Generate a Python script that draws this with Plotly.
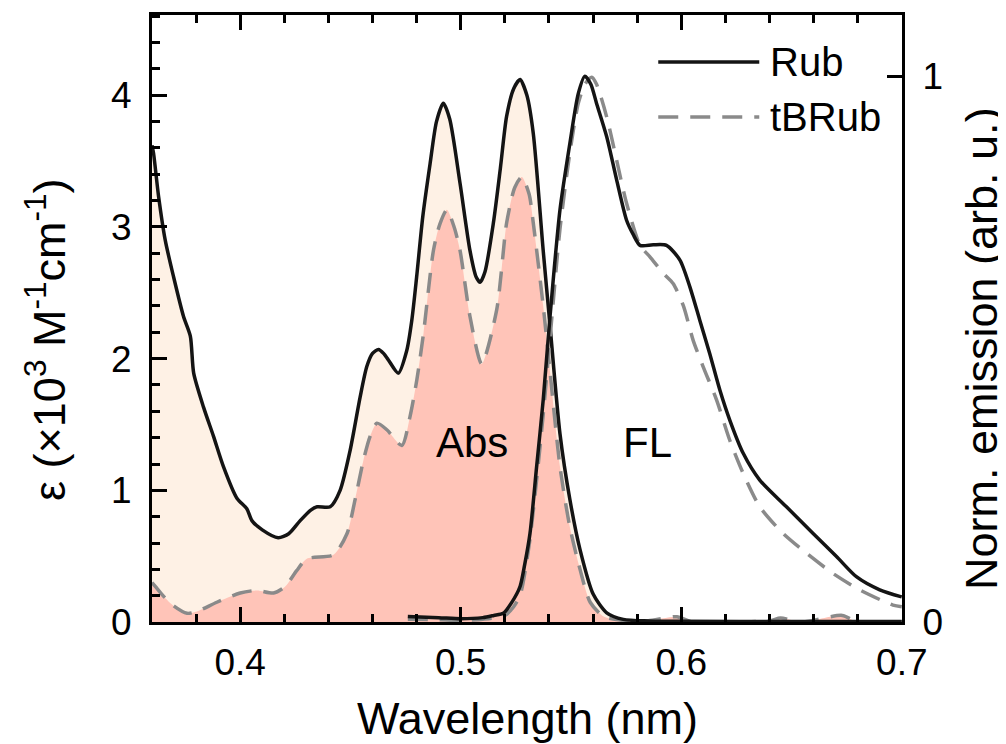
import plotly.graph_objects as go

# ---------------- data ----------------
# Absorption (left axis, epsilon x10^3 M^-1 cm^-1)
abs_rub_wl = [0.3600, 0.3607, 0.3630, 0.3660, 0.3698, 0.3743, 0.3774, 0.3789, 0.3834, 0.3879,
              0.3924, 0.3985, 0.4030, 0.4053, 0.4100, 0.4172, 0.4220, 0.4272, 0.4320, 0.4349,
              0.4408, 0.4453, 0.4498, 0.4544, 0.4574, 0.4600, 0.4627, 0.4650, 0.4672, 0.4717,
              0.4755, 0.4778, 0.4800, 0.4828, 0.4861, 0.4890, 0.4921, 0.4950, 0.4997, 0.5042,
              0.5070, 0.5088, 0.5110, 0.5148, 0.5180, 0.5208, 0.5240, 0.5269, 0.5300, 0.5329,
              0.5374, 0.5405, 0.5450, 0.5495, 0.5541, 0.5601, 0.5662, 0.5737, 0.5850, 0.6000,
              0.6500, 0.7000]
abs_rub = [3.62, 3.56, 3.23, 2.90, 2.62, 2.32, 2.17, 1.89, 1.63, 1.41,
           1.18, 0.94, 0.86, 0.77, 0.70, 0.64, 0.67, 0.77, 0.85, 0.875,
           0.875, 1.00, 1.30, 1.71, 1.94, 2.04, 2.07, 2.04, 1.99, 1.89,
           2.06, 2.29, 2.62, 3.08, 3.48, 3.80, 3.94, 3.82, 3.33, 2.82,
           2.62, 2.58, 2.66, 3.03, 3.45, 3.84, 4.05, 4.12, 4.00, 3.71,
           2.82, 2.25, 1.43, 0.93, 0.55, 0.21, 0.07, 0.02, 0.008, 0.005,
           0.004, 0.003]

abs_tb_wl = [0.3600, 0.3615, 0.3650, 0.3700, 0.3759, 0.3804, 0.3894, 0.4000, 0.4076, 0.4151,
             0.4204, 0.4256, 0.4302, 0.4423, 0.4484, 0.4521, 0.4559, 0.4589, 0.4620, 0.4665,
             0.4733, 0.4770, 0.4801, 0.4831, 0.4876, 0.4905, 0.4937, 0.4970, 0.4997, 0.5042,
             0.5095, 0.5163, 0.5208, 0.5245, 0.5277, 0.5310, 0.5329, 0.5374, 0.5405, 0.5450,
             0.5495, 0.5541, 0.5587, 0.5650, 0.5750, 0.5850, 0.5980, 0.6050, 0.6400, 0.6450,
             0.6550, 0.6730, 0.6800, 0.7000]
abs_tb = [0.30, 0.27, 0.20, 0.12, 0.066, 0.08, 0.15, 0.22, 0.24, 0.22,
          0.27, 0.39, 0.48, 0.51, 0.67, 0.93, 1.23, 1.41, 1.51, 1.46,
          1.34, 1.56, 1.84, 2.19, 2.82, 3.02, 3.13, 3.00, 2.82, 2.32,
          1.96, 2.37, 3.03, 3.30, 3.38, 3.25, 3.03, 2.40, 1.90, 1.18,
          0.72, 0.40, 0.15, 0.04, 0.01, 0.01, 0.04, 0.0, 0.01, 0.03,
          0.0, 0.05, 0.0, 0.0]

# Normalized emission (right axis)
em_rub_wl = [0.4760, 0.4900, 0.5000, 0.5100, 0.5150, 0.5193, 0.5230, 0.5269, 0.5290, 0.5314,
             0.5344, 0.5374, 0.5405, 0.5450, 0.5495, 0.5533, 0.5563, 0.5590, 0.5616, 0.5662,
             0.5707, 0.5752, 0.5782, 0.5813, 0.5873, 0.5933, 0.5994, 0.6039, 0.6084, 0.6129,
             0.6175, 0.6220, 0.6281, 0.6356, 0.6477, 0.6598, 0.6704, 0.6794, 0.6900, 0.7000]
em_rub = [0.010, 0.008, 0.006, 0.008, 0.012, 0.016, 0.035, 0.065, 0.105, 0.162,
          0.284, 0.407, 0.560, 0.755, 0.877, 0.968, 1.000, 0.985, 0.950, 0.889,
          0.810, 0.736, 0.710, 0.690, 0.691, 0.690, 0.663, 0.614, 0.553, 0.492,
          0.425, 0.370, 0.309, 0.260, 0.211, 0.162, 0.120, 0.083, 0.059, 0.046]

em_tb_wl = [0.4760, 0.4900, 0.5000, 0.5100, 0.5200, 0.5240, 0.5270, 0.5310, 0.5344, 0.5374,
            0.5405, 0.5450, 0.5495, 0.5533, 0.5563, 0.5594, 0.5616, 0.5662, 0.5707, 0.5752,
            0.5813, 0.5858, 0.5918, 0.5963, 0.6009, 0.6054, 0.6099, 0.6160, 0.6220, 0.6281,
            0.6356, 0.6462, 0.6568, 0.6688, 0.6809, 0.6960, 0.7000]
em_tb = [0.005, 0.004, 0.003, 0.005, 0.012, 0.028, 0.050, 0.140, 0.260, 0.380,
         0.520, 0.720, 0.860, 0.950, 0.985, 0.998, 0.985, 0.925, 0.846, 0.767,
         0.690, 0.669, 0.639, 0.620, 0.580, 0.516, 0.468, 0.407, 0.333, 0.272,
         0.211, 0.162, 0.126, 0.089, 0.059, 0.031, 0.028]

series_names = ["Rub", "tBRub"]
x_ticks = [0.4, 0.5, 0.6, 0.7]
y_ticks = [0, 1, 2, 3, 4]
y2_ticks = [0, 1]

# ---------------- style ----------------
FONT = "Liberation Sans, Arial, sans-serif"
BLACK = "#141414"
GRAY = "#8a8a8a"
PEACH = "#FEF1E5"
PINK = "#FFC4B8"
DASH = "20px,12px"
SPL = dict(shape="spline", smoothing=0.7)

fig = go.Figure()

# fills first
fig.add_trace(go.Scatter(x=abs_rub_wl, y=abs_rub, mode="lines", line=dict(width=0, color=PEACH, **SPL),
                         fill="tozeroy", fillcolor=PEACH, showlegend=False, hoverinfo="skip"))
fig.add_trace(go.Scatter(x=abs_tb_wl, y=abs_tb, mode="lines", line=dict(width=0, color=PINK, **SPL),
                         fill="tozeroy", fillcolor=PINK, showlegend=False, hoverinfo="skip"))
# absorption lines
fig.add_trace(go.Scatter(x=abs_tb_wl, y=abs_tb, mode="lines", name=series_names[1] + " Abs",
                         line=dict(color=GRAY, width=3.5, dash=DASH, **SPL), showlegend=False))
fig.add_trace(go.Scatter(x=abs_rub_wl, y=abs_rub, mode="lines", name=series_names[0] + " Abs",
                         line=dict(color=BLACK, width=3.5, **SPL), showlegend=False))
# emission lines (right axis)
fig.add_trace(go.Scatter(x=em_tb_wl, y=em_tb, mode="lines", name=series_names[1] + " FL", yaxis="y2",
                         line=dict(color=GRAY, width=3.5, dash=DASH, **SPL), showlegend=False))
fig.add_trace(go.Scatter(x=em_rub_wl, y=em_rub, mode="lines", name=series_names[0] + " FL", yaxis="y2",
                         line=dict(color=BLACK, width=3.5, **SPL), showlegend=False))

axis_common = dict(showline=True, linewidth=3, linecolor="black", ticks="inside",
                   tickwidth=3, tickcolor="black", showgrid=False, zeroline=False,
                   automargin=False,
                   tickfont=dict(family=FONT, size=37, color="black"))

# The page body adds an 8 px margin; the figure is sized so the whole page is 1006x744.
fig.update_layout(
    width=998, height=736,
    margin=dict(l=144, r=104, t=7, b=122, autoexpand=False),
    paper_bgcolor="white", plot_bgcolor="white",
    font=dict(family=FONT, color="black"),
    showlegend=False,
    xaxis=dict(range=[0.36, 0.7001], tickvals=x_ticks, ticktext=[str(v) for v in x_ticks],
               ticklen=15, mirror="ticks",
               minor=dict(dtick=0.02, tick0=0.36, ticklen=8, tickwidth=3, ticks="inside", tickcolor="black"),
               ticklabelstandoff=6,
               **axis_common),
    yaxis=dict(range=[0, 4.61], tickvals=y_ticks, ticklen=15,
               minor=dict(dtick=0.2, tick0=0, ticklen=8, tickwidth=3, ticks="inside", tickcolor="black"),
               ticklabelstandoff=10,
               **axis_common),
    yaxis2=dict(range=[0, 1.112], tickvals=y2_ticks, ticklen=15, overlaying="y", side="right",
                ticklabelstandoff=10,
                **axis_common),
)

# axis titles
fig.add_annotation(x=0.5, y=-0.1598, xref="paper", yref="paper", text="Wavelength (nm)",
                   showarrow=False, xanchor="center", yanchor="middle",
                   font=dict(family=FONT, size=45, color="black"))
fig.add_annotation(x=-0.1413, y=0.4646, xref="paper", yref="paper",
                   text="ε (×10<sup>3</sup> M<sup>-1</sup>cm<sup>-1</sup>)", textangle=-90,
                   showarrow=False, xanchor="center", yanchor="middle",
                   font=dict(family=FONT, size=45, color="black"))
fig.add_annotation(x=1.1067, y=0.4498, xref="paper", yref="paper", text="Norm. emission (arb. u.)",
                   textangle=-90, showarrow=False, xanchor="center", yanchor="middle",
                   font=dict(family=FONT, size=45, color="black"))

# text labels inside plot
fig.add_annotation(x=0.5049, y=1.36, xref="x", yref="y", text="Abs", showarrow=False,
                   font=dict(family=FONT, size=42, color="black"))
fig.add_annotation(x=0.5847, y=1.36, xref="x", yref="y", text="FL", showarrow=False,
                   font=dict(family=FONT, size=42, color="black"))

# manual legend (long line samples as in the original)
leg_x0, leg_x1 = 0.675, 0.8097
leg_y = [0.9226, 0.832]
leg_styles = [dict(color=BLACK, width=3.5), dict(color=GRAY, width=3.5, dash=DASH)]
for name, yy, st in zip(series_names, leg_y, leg_styles):
    fig.add_shape(type="line", xref="paper", yref="paper", x0=leg_x0, x1=leg_x1, y0=yy, y1=yy, line=st)
    fig.add_annotation(x=leg_x1 + 0.012, y=yy, xref="paper", yref="paper", text=name, showarrow=False,
                       xanchor="left", yanchor="middle", font=dict(family=FONT, size=40, color="black"))

fig.write_html("out.html")
